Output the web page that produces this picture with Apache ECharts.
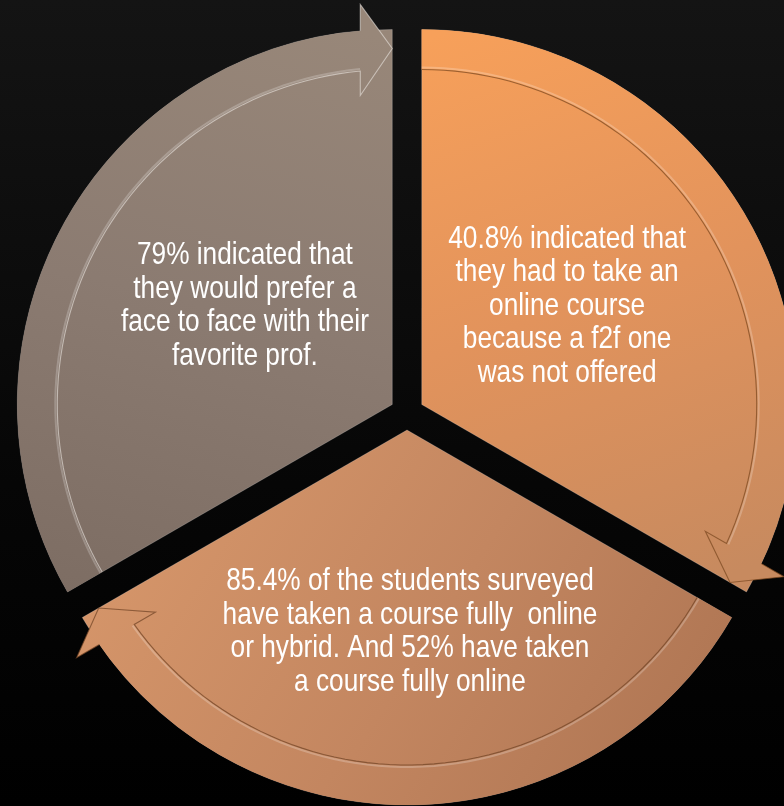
<!DOCTYPE html>
<html><head><meta charset="utf-8">
<script src="https://cdn.jsdelivr.net/npm/echarts@6/dist/echarts.min.js"></script>
<style>html,body{margin:0;padding:0;background:#000;}#c{width:784px;height:806px;}</style>
</head><body><div id="c"></div>
<script>
// ---- data ----
const categories = ['Had to take online (no f2f offered)', 'Taken online or hybrid', 'Prefer face to face'];
const values = [1, 1, 1];
const labels = [
  '40.8% indicated that\nthey had to take an\nonline course\nbecause a f2f one\nwas not offered',
  '85.4% of the students surveyed\nhave taken a course fully  online\nor hybrid. And 52% have taken\na course fully online',
  '79% indicated that\nthey would prefer a\nface to face with their\nfavorite prof.'
];

// ---- styles / geometry ----
const CX = 407, CY = 413, R = 375, OFF = 17;
const BAND_IN = 335, TIP_R = 356, WING_IN = 309, WING_OUT = 400, BACK = 32;
const LABEL_R = 204.5;
const palette = [
  {g: [450, 30, 660, 600], stops: ['#f7a05a', '#e2935c', '#c78a5f']},
  {g: [150, 450, 700, 800], stops: ['#d6966a', '#c38660', '#ad7452']},
  {g: [320, 20, 160, 620], stops: ['#988779', '#8b7b71', '#7d6d63']}
];
const lineCol = ['rgba(120,70,30,0.7)', 'rgba(110,65,35,0.7)', 'rgba(235,230,225,0.6)'];
const labelOffsets = [[-17, -5], [3, 14], [15, -5]];

function grad(i) {
  const p = palette[i];
  return new echarts.graphic.LinearGradient(p.g[0], p.g[1], p.g[2], p.g[3], [
    {offset: 0, color: p.stops[0]}, {offset: 0.5, color: p.stops[1]}, {offset: 1, color: p.stops[2]}
  ], true);
}
function u(a) { const r = a * Math.PI / 180; return [Math.cos(r), -Math.sin(r)]; }
function pt(o, r, a) { const v = u(a); return [o[0] + r * v[0], o[1] + r * v[1]]; }
function arc(o, r, a0, a1, n) { const p = []; for (let k = 0; k <= n; k++) p.push(pt(o, r, a0 + (a1 - a0) * k / n)); return p; }

const total = values.reduce((s, v) => s + v, 0);
function angles(i) {
  let cum = 0; for (let k = 0; k < i; k++) cum += values[k];
  const s = 90 - 360 * cum / total, e = s - 360 * values[i] / total;
  return [s, e, (s + e) / 2];
}

function renderArrow(params, api) {
  const i = params.dataIndex;
  const [s, e, m] = angles(i);
  const o = [CX + OFF * u(m)[0], CY + OFF * u(m)[1]];
  const ev = u(e), bv = u(e + 90);
  const P = (r, b) => [o[0] + r * ev[0] + b * bv[0], o[1] + r * ev[1] + b * bv[1]];
  const dOut = Math.asin(BACK / R) * 180 / Math.PI;
  const dIn = Math.asin(BACK / BAND_IN) * 180 / Math.PI;
  const outerArc = arc(o, R, s, e + dOut, 60);
  const innerArc = arc(o, BAND_IN, e + dIn, s, 60);
  const wOut = P(WING_OUT, BACK), tip = P(TIP_R, 0), wIn = P(WING_IN, BACK);
  const poly = outerArc.concat([wOut, tip, wIn]).concat(innerArc);
  const outline = arc(o, BAND_IN, s, e + dIn, 60).concat([wIn, tip, wOut, pt(o, R, e + dOut)]);
  const lp = [CX + LABEL_R * u(m)[0] + labelOffsets[i][0], CY + LABEL_R * u(m)[1] + labelOffsets[i][1]];
  return {
    type: 'group',
    children: [
      {type: 'polygon', shape: {points: poly}, style: {fill: grad(i), stroke: null}},
      {type: 'polyline', shape: {points: outline}, style: {fill: null, stroke: lineCol[i], lineWidth: 1.1}},
      {type: 'polyline', shape: {points: arc(o, BAND_IN + 2, s, e + dIn, 60)}, style: {fill: null, stroke: 'rgba(255,255,255,0.22)', lineWidth: 2}},
      {type: 'text', x: lp[0], y: lp[1], scaleX: 0.82, scaleY: 1,
        style: {text: labels[i], x: 0, y: 0, align: 'center', verticalAlign: 'middle',
          fill: '#ffffff', fontFamily: '"Liberation Sans", Arial, sans-serif', fontSize: 32, lineHeight: 33.5}}
    ]
  };
}

const chart = echarts.init(document.getElementById('c'), null, {renderer: 'canvas'});
chart.setOption({
  animation: false,
  backgroundColor: new echarts.graphic.LinearGradient(0, 0, 0, 1, [
    {offset: 0, color: '#141414'}, {offset: 0.6, color: '#060606'}, {offset: 1, color: '#000000'}
  ]),
  series: [
    {
      type: 'pie',
      center: [CX, CY],
      radius: [0, R],
      startAngle: 90,
      clockwise: true,
      selectedMode: 'multiple',
      selectedOffset: OFF,
      avoidLabelOverlap: false,
      silent: true,
      emphasis: {disabled: true},
      label: {show: false},
      labelLine: {show: false},
      data: categories.map((c, i) => ({
        name: c,
        value: values[i],
        selected: true,
        itemStyle: {color: grad(i), borderColor: 'rgba(255,255,255,0.2)', borderWidth: 1},
        select: {itemStyle: {color: grad(i), borderColor: 'rgba(255,255,255,0.2)', borderWidth: 1}}
      }))
    },
    {
      type: 'custom',
      coordinateSystem: 'none',
      silent: true,
      z: 3,
      data: values.map((v, i) => [i, v]),
      renderItem: renderArrow
    }
  ]
});
</script></body></html>
